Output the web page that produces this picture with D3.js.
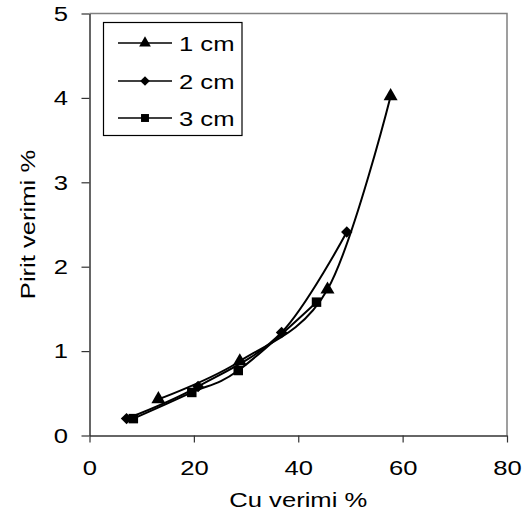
<!DOCTYPE html>
<html>
<head>
<meta charset="utf-8">
<script src="https://cdn.jsdelivr.net/npm/d3@7"></script>
<style>
body { margin: 0; background: #fff; }
text { font-family: "Liberation Sans", Arial, sans-serif; fill: #000; }
</style>
</head>
<body>
<svg width="530" height="519"></svg>
<script>

// data: [Cu verimi %, Pirit verimi %]
var series1 = [[13.2, 0.43], [28.8, 0.88], [45.6, 1.73], [57.7, 4.02]];
var series2 = [[7.1, 0.2], [20.8, 0.58], [36.8, 1.22], [49.3, 2.41]];
var series3 = [[8.4, 0.2], [19.6, 0.51], [28.5, 0.77], [43.5, 1.58]];
var seriesNames = ["1 cm", "2 cm", "3 cm"];
var xTicks = [0, 20, 40, 60, 80];
var yTicks = [0, 1, 2, 3, 4, 5];

var svg = d3.select("svg");
var margin = {left: 89.5, right: 23, top: 13.5, bottom: 83.5};
var W = 530, H = 519;
var fs = "21px", sx = 1.22;   // text in the picture is a bit wide

var x = d3.scaleLinear().domain([0, 80]).range([margin.left, W - margin.right]);
var y = d3.scaleLinear().domain([0, 5]).range([H - margin.bottom, margin.top]);

// marker shapes: triangle, diamond (rotated square), square
var markers = [
  {type: d3.symbolTriangle, size: 85, rot: 0},
  {type: d3.symbolSquare, size: 66, rot: 45},
  {type: d3.symbolSquare, size: 90, rot: 0}
];

// plot area frame (top and right in gray)
svg.append("path")
  .attr("d", "M" + x(0) + "," + y(5) + "H" + x(80) + "V" + y(0))
  .attr("fill", "none").attr("stroke", "#808080").attr("stroke-width", 1.5);

var xAxis = svg.append("g")
  .attr("transform", "translate(0," + y(0) + ")")
  .call(d3.axisBottom(x).tickValues(xTicks).tickSize(7).tickPadding(18).tickSizeOuter(0));
var yAxis = svg.append("g")
  .attr("transform", "translate(" + x(0) + ",0)")
  .call(d3.axisLeft(y).tickValues(yTicks).tickFormat(d3.format("d")).tickSize(8).tickSizeOuter(0));

[xAxis, yAxis].forEach(function(a) {
  a.select(".domain").attr("stroke", "#333").attr("stroke-width", 1.5);
  a.selectAll(".tick line").attr("stroke", "#333").attr("stroke-width", 1.2);
  a.selectAll(".tick text").style("font-size", fs).attr("fill", "#000")
    .attr("transform", "scale(" + sx + ",1)");
});
yAxis.selectAll(".tick text").attr("x", -21.5 / sx);

svg.append("text")
  .attr("transform", "translate(" + x(40) + ",507) scale(" + sx + ",1)")
  .attr("text-anchor", "middle").style("font-size", fs)
  .text("Cu verimi %");
svg.append("text")
  .attr("transform", "translate(35," + y(2.5) + ") rotate(-90) scale(" + sx + ",1)")
  .attr("text-anchor", "middle").style("font-size", fs)
  .text("Pirit verimi %");

var line = d3.line()
  .x(function(d) { return x(d[0]); })
  .y(function(d) { return y(d[1]); })
  .curve(d3.curveCardinal.tension(0));

var allSeries = [series1, series2, series3];
allSeries.forEach(function(s) {
  svg.append("path")
    .attr("d", line(s))
    .attr("fill", "none").attr("stroke", "#000").attr("stroke-width", 2);
});
allSeries.forEach(function(s, i) {
  var m = markers[i];
  svg.append("g").selectAll("path")
    .data(s).enter().append("path")
    .attr("transform", function(d) { return "translate(" + x(d[0]) + "," + y(d[1]) + ") rotate(" + m.rot + ")"; })
    .attr("d", d3.symbol().type(m.type).size(m.size))
    .attr("fill", "#000");
});

// legend
var leg = svg.append("g");
leg.append("rect")
  .attr("x", 103.5).attr("y", 22.5).attr("width", 138.5).attr("height", 113)
  .attr("fill", "#fff").attr("stroke", "#000").attr("stroke-width", 1.2);
var legY = [43, 81, 118];
seriesNames.forEach(function(name, i) {
  var m = markers[i];
  leg.append("line")
    .attr("x1", 118).attr("x2", 172).attr("y1", legY[i]).attr("y2", legY[i])
    .attr("stroke", "#000").attr("stroke-width", 1.5);
  leg.append("path")
    .attr("transform", "translate(145," + legY[i] + ") rotate(" + m.rot + ")")
    .attr("d", d3.symbol().type(m.type).size(m.size * 0.7))
    .attr("fill", "#000");
  leg.append("text")
    .attr("transform", "translate(179," + legY[i] + ") scale(" + sx + ",1)")
    .attr("dy", "0.36em")
    .style("font-size", fs)
    .text(name);
});

</script>
</body>
</html>
